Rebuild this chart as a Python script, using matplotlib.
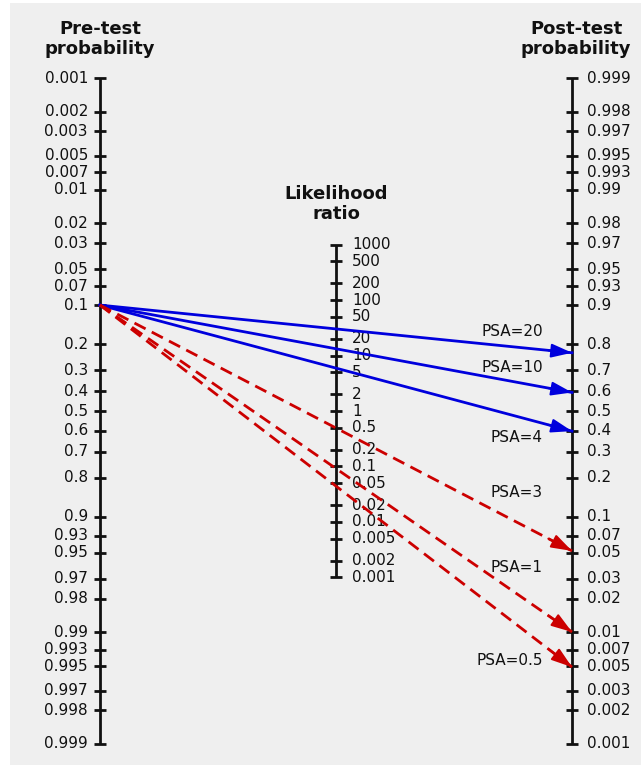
import matplotlib
matplotlib.use('Agg')
import matplotlib.pyplot as plt
import numpy as np

matplotlib.rcParams.update({'font.size': 11, 'font.family': 'DejaVu Sans'})

# probability scale ticks (pre-test, left axis)
pre_ticks = [0.001, 0.002, 0.003, 0.005, 0.007, 0.01, 0.02, 0.03, 0.05, 0.07,
             0.1, 0.2, 0.3, 0.4, 0.5, 0.6, 0.7, 0.8, 0.9, 0.93, 0.95, 0.97,
             0.98, 0.99, 0.993, 0.995, 0.997, 0.998, 0.999]
pre_labels = ['0.001', '0.002', '0.003', '0.005', '0.007', '0.01', '0.02', '0.03',
              '0.05', '0.07', '0.1', '0.2', '0.3', '0.4', '0.5', '0.6', '0.7', '0.8',
              '0.9', '0.93', '0.95', '0.97', '0.98', '0.99', '0.993', '0.995',
              '0.997', '0.998', '0.999']
# post-test axis ticks (right axis)
post_ticks = [0.999, 0.998, 0.997, 0.995, 0.993, 0.99, 0.98, 0.97, 0.95, 0.93,
              0.9, 0.8, 0.7, 0.6, 0.5, 0.4, 0.3, 0.2, 0.1, 0.07, 0.05, 0.03,
              0.02, 0.01, 0.007, 0.005, 0.003, 0.002, 0.001]
post_labels = ['0.999', '0.998', '0.997', '0.995', '0.993', '0.99', '0.98', '0.97',
               '0.95', '0.93', '0.9', '0.8', '0.7', '0.6', '0.5', '0.4', '0.3', '0.2',
               '0.1', '0.07', '0.05', '0.03', '0.02', '0.01', '0.007', '0.005',
               '0.003', '0.002', '0.001']
# likelihood ratio ticks (middle axis)
lr_ticks = [1000, 500, 200, 100, 50, 20, 10, 5, 2, 1, 0.5, 0.2, 0.1, 0.05,
            0.02, 0.01, 0.005, 0.002, 0.001]
lr_labels = ['1000', '500', '200', '100', '50', '20', '10', '5', '2', '1', '0.5',
             '0.2', '0.1', '0.05', '0.02', '0.01', '0.005', '0.002', '0.001']

# PSA cut-offs
pretest = 0.1
psa_names = ['PSA=20', 'PSA=10', 'PSA=4', 'PSA=3', 'PSA=1', 'PSA=0.5']
posttest = [0.77, 0.595, 0.397, 0.052, 0.0101, 0.0049]
psa_colors = ['#0000dd', '#0000dd', '#0000dd', '#cc0000', '#cc0000', '#cc0000']
psa_styles = ['-', '-', '-', '--', '--', '--']
label_y = [-1.64, -0.91, 0.54, 1.70, 3.24, 5.17]


def logit(p):
    p = np.asarray(p, dtype=float)
    return np.log(p / (1 - p))


# vertical positions in logit units (down = larger)
def y_pre(p):
    return logit(p)


def y_post(p):
    return -logit(p)


def y_lr(lr):
    return -np.log(np.asarray(lr, dtype=float)) / 2


fig = plt.figure(figsize=(6.41, 7.70), dpi=100, facecolor='white')
ax = fig.add_axes([0, 0, 1, 1])
px_per_x = 472.0
px_per_u = 48.2
ax.set_xlim(-100 / px_per_x, 541 / px_per_x)
ax.set_ylim(359 / px_per_u, -411 / px_per_u)
ax.axis('off')

ax.add_patch(plt.Rectangle((10 / 641, 5 / 770), 1 - 10 / 641, 1 - 8 / 770,
                           transform=ax.transAxes, facecolor='#efefef',
                           edgecolor='none', zorder=0))

tick = 6 / px_per_x
col = '#111111'

# axes lines
xl, xm, xr = 0.0, 0.5, 1.0
for x, ys in [(xl, y_pre(pre_ticks)), (xm, y_lr(lr_ticks)), (xr, y_post(post_ticks))]:
    ax.plot([x, x], [ys.min(), ys.max()], color=col, lw=2, solid_capstyle='butt', zorder=2)
    for y in ys:
        ax.plot([x - tick, x + tick], [y, y], color=col, lw=2, solid_capstyle='butt', zorder=2)

for y, lab in zip(y_pre(pre_ticks), pre_labels):
    ax.text(xl - 12 / px_per_x, y, lab, ha='right', va='center', color=col, fontsize=11)
for y, lab in zip(y_lr(lr_ticks), lr_labels):
    ax.text(xm + 16 / px_per_x, y, lab, ha='left', va='center', color=col, fontsize=11)
for y, lab in zip(y_post(post_ticks), post_labels):
    ax.text(xr + 15 / px_per_x, y, lab, ha='left', va='center', color=col, fontsize=11)

# titles
ax.text(xl, (39 - 411) / px_per_u, 'Pre-test\nprobability', ha='center', va='center',
        fontsize=13, fontweight='bold', color=col)
ax.text(xm, (204 - 411) / px_per_u, 'Likelihood\nratio', ha='center', va='center',
        fontsize=13, fontweight='bold', color=col)
ax.text(xr + 4 / px_per_x, (39 - 411) / px_per_u, 'Post-test\nprobability', ha='center',
        va='center', fontsize=13, fontweight='bold', color=col)

# PSA lines
y0 = y_pre(pretest)
for name, post, c, ls, ly in zip(psa_names, posttest, psa_colors, psa_styles, label_y):
    y1 = y_post(post)
    ax.plot([xl, xr], [y0, y1], color=c, lw=2, ls=ls, dashes=(4.5, 2.5) if ls == '--' else (None, None),
            zorder=3)
    f = 0.95
    ax.annotate('', xy=(xr, y1), xytext=(xl + f * (xr - xl), y0 + f * (y1 - y0)),
                arrowprops=dict(arrowstyle='-|>,head_length=0.9,head_width=0.3',
                                color=c, lw=1.5, shrinkA=0, shrinkB=0, mutation_scale=14),
                zorder=4)
    ax.text((543 - 100) / px_per_x, ly, name, ha='right', va='center', color=col, fontsize=11)

plt.savefig('out.png', dpi=100, facecolor='white')
plt.close()
